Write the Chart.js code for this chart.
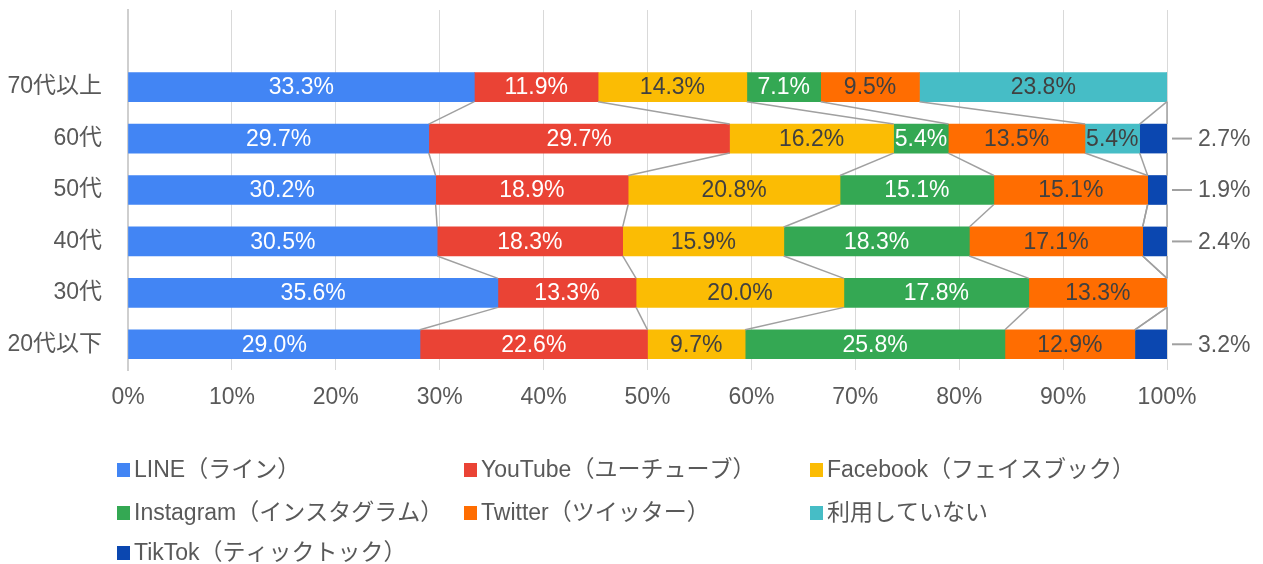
<!DOCTYPE html>
<html>
<head>
<meta charset="utf-8">
<script src="https://cdn.jsdelivr.net/npm/chart.js@4"></script>
<style>
  html, body { margin: 0; padding: 0; background: #fff; }
  canvas { display: block; }
</style>
</head>
<body>
<canvas id="chart" width="1263" height="564"></canvas>
<script>
/* SNS利用 — 年代別 100%積み上げ横棒 */
// 先頭の空カテゴリはプロット上部の余白用
const categories = ['', '70代以上', '60代', '50代', '40代', '30代', '20代以下'];
const seriesNames = ['LINE（ライン）', 'YouTube（ユーチューブ）', 'Facebook（フェイスブック）',
  'Instagram（インスタグラム）', 'Twitter（ツイッター）', '利用していない', 'TikTok（ティックトック）'];
const lineVals      = [null, 33.3, 29.7, 30.2, 30.5, 35.6, 29.0];
const youtubeVals   = [null, 11.9, 29.7, 18.9, 18.3, 13.3, 22.6];
const facebookVals  = [null, 14.3, 16.2, 20.8, 15.9, 20.0, 9.7];
const instagramVals = [null, 7.1, 5.4, 15.1, 18.3, 17.8, 25.8];
const twitterVals   = [null, 9.5, 13.5, 15.1, 17.1, 13.3, 12.9];
const notUsingVals  = [null, 23.8, 5.4, 0, 0, 0, 0];
const tiktokVals    = [null, 0, 2.7, 1.9, 2.4, 0, 3.2];
const xTicks = [0, 10, 20, 30, 40, 50, 60, 70, 80, 90, 100];

const colors = ['#4285f4', '#ea4335', '#fbbc04', '#34a853', '#ff6d01', '#46bdc6', '#0b47b0'];
const labelColors = ['#fff', '#fff', '#404040', '#fff', '#404040', '#404040', '#404040'];
const FONT = '"Liberation Sans", Arial, "Noto Sans CJK JP", sans-serif';
const TEXT = '#595959';

const allVals = [lineVals, youtubeVals, facebookVals, instagramVals, twitterVals, notUsingVals, tiktokVals];
// 100%積み上げなので行ごとに正規化
const rowSums = categories.map((_, j) => allVals.reduce((s, a) => s + (a[j] || 0), 0));

const datasets = allVals.map((vals, i) => ({
  label: seriesNames[i],
  data: vals.map((v, j) => v === null ? null : v / rowSums[j] * 100),
  rawValues: vals,
  backgroundColor: colors[i],
  labelColor: labelColors[i],
  outside: i === 6,
  borderWidth: 0,
  barThickness: 29,
}));

const seriesLines = {
  id: 'seriesLines',
  afterDatasetsDraw(chart) {
    const ctx = chart.ctx;
    ctx.save();
    ctx.strokeStyle = '#a0a0a0';
    ctx.lineWidth = 1.5;
    chart.data.datasets.forEach((ds, i) => {
      const els = chart.getDatasetMeta(i).data;
      for (let j = 1; j < els.length - 1; j++) {
        const a = els[j].getProps(['x', 'y', 'height'], true);
        const b = els[j + 1].getProps(['x', 'y', 'height'], true);
        ctx.beginPath();
        ctx.moveTo(a.x, a.y + a.height / 2);
        ctx.lineTo(b.x, b.y - b.height / 2);
        ctx.stroke();
      }
    });
    ctx.restore();
  }
};

const barLabels = {
  id: 'barLabels',
  afterDatasetsDraw(chart) {
    const ctx = chart.ctx;
    ctx.save();
    ctx.font = '23px ' + FONT;
    ctx.textBaseline = 'middle';
    chart.data.datasets.forEach((ds, i) => {
      chart.getDatasetMeta(i).data.forEach((el, j) => {
        const raw = ds.rawValues[j];
        if (!raw) return;
        const { x, y, base } = el.getProps(['x', 'y', 'base'], true);
        const text = raw.toFixed(1) + '%';
        if (ds.outside) {
          ctx.strokeStyle = '#a0a0a0';
          ctx.lineWidth = 2;
          ctx.beginPath();
          ctx.moveTo(x + 5, y);
          ctx.lineTo(x + 25, y);
          ctx.stroke();
          ctx.fillStyle = TEXT;
          ctx.textAlign = 'left';
          ctx.fillText(text, x + 31, y + 1);
        } else {
          ctx.fillStyle = ds.labelColor;
          ctx.textAlign = 'center';
          ctx.fillText(text, (x + base) / 2, y + 1);
        }
      });
    });
    ctx.restore();
  }
};

const gridLegend = {
  id: 'gridLegend',
  afterDraw(chart) {
    const ctx = chart.ctx;
    const cols = [117, 464, 810];
    const rows = [470, 513, 553];
    ctx.save();
    ctx.font = '23px ' + FONT;
    ctx.textBaseline = 'middle';
    ctx.textAlign = 'left';
    chart.data.datasets.forEach((ds, i) => {
      const cx = cols[i % 3], cy = rows[Math.floor(i / 3)];
      ctx.fillStyle = ds.backgroundColor;
      ctx.fillRect(cx, cy - 7, 13, 14);
      ctx.fillStyle = TEXT;
      ctx.fillText(ds.label, cx + 17, cy + 1);
    });
    ctx.restore();
  }
};

new Chart(document.getElementById('chart').getContext('2d'), {
  type: 'bar',
  data: { labels: categories, datasets },
  options: {
    indexAxis: 'y',
    responsive: false,
    animation: false,
    devicePixelRatio: 1,
    layout: { padding: { top: 10, right: 96, left: 0, bottom: 0 } },
    plugins: { legend: { display: false }, tooltip: { enabled: false } },
    scales: {
      x: {
        stacked: true, min: 0, max: 100,
        afterBuildTicks: s => { s.ticks = xTicks.map(v => ({ value: v })); },
        ticks: {
          callback: v => v + '%', color: TEXT, padding: 14,
          font: { size: 23, family: FONT }, maxRotation: 0, autoSkip: false,
        },
        grid: { color: '#d9d9d9', drawTicks: false },
        border: { display: false },
        afterFit: s => { s.height = 194; s.paddingLeft = 0; s.paddingRight = 0; },
      },
      y: {
        stacked: true,
        ticks: { color: TEXT, padding: 26, font: { size: 23, family: FONT } },
        grid: { display: false, drawTicks: false },
        border: { display: true, color: '#cfcfcf', width: 2 },
        afterFit: s => { s.width = 128; s.paddingTop = 0; s.paddingBottom = 0; },
      },
    },
  },
  plugins: [seriesLines, barLabels, gridLegend],
});
</script>
</body>
</html>
